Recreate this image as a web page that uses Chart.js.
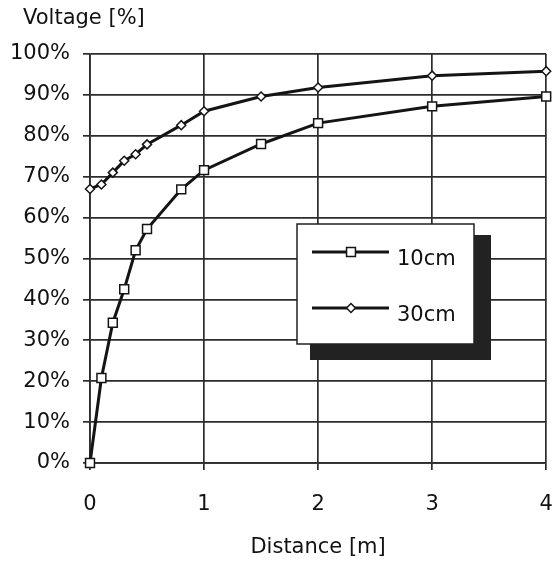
<!DOCTYPE html>
<html>
<head>
<meta charset="utf-8">
<script src="https://cdn.jsdelivr.net/npm/chart.js@4/dist/chart.umd.min.js"></script>
<style>
  html, body { margin: 0; padding: 0; background: #fff; }
  #wrap { width: 554px; height: 562px; }
</style>
</head>
<body>
<div id="wrap"><canvas id="c" width="554" height="562"></canvas></div>
<script>
// Measured voltage vs. distance from the electrode
const distances = [0, 0.1, 0.2, 0.3, 0.4, 0.5, 0.8, 1, 1.5, 2, 3, 4];
const voltage10cm = [0, 20.8, 34.3, 42.5, 52, 57.2, 66.9, 71.6, 78, 83.1, 87.2, 89.6];
const voltage30cm = [67, 68.1, 71, 73.9, 75.5, 77.9, 82.6, 86, 89.6, 91.8, 94.7, 95.8];
const seriesNames = ['10cm', '30cm'];
const yTickValues = [0, 10, 20, 30, 40, 50, 60, 70, 80, 90, 100];
const xTickValues = [0, 1, 2, 3, 4];
const yTitle = 'Voltage [%]';
const xTitle = 'Distance [m]';

const FONT = '"DejaVu Sans", Verdana, sans-serif';
const TEXT = '#111';
const INK = '#141414';
const GRID = '#2c2c2c';

function toPoints(xs, ys) {
  return xs.map((x, i) => ({ x: x, y: ys[i] }));
}

// boxed legend with a drop shadow, plus the y-axis caption at the top
const boxLegend = {
  id: 'boxLegend',
  afterDraw(chart) {
    const ctx = chart.ctx;
    ctx.save();
    ctx.font = '21px ' + FONT;
    ctx.fillStyle = TEXT;
    ctx.textBaseline = 'alphabetic';
    ctx.textAlign = 'left';
    ctx.fillText(yTitle, 23, 24);

    // shadow
    ctx.fillStyle = '#222';
    ctx.fillRect(310, 235, 181, 125);
    // box
    ctx.fillStyle = '#fff';
    ctx.fillRect(297, 224, 177, 120);
    ctx.strokeStyle = '#222';
    ctx.lineWidth = 1.5;
    ctx.strokeRect(297, 224, 177, 120);

    const rows = [252, 308];
    chart.data.datasets.forEach((ds, i) => {
      const y = rows[i];
      ctx.strokeStyle = ds.borderColor;
      ctx.lineWidth = ds.borderWidth;
      ctx.beginPath();
      ctx.moveTo(312, y);
      ctx.lineTo(389, y);
      ctx.stroke();
      const cx = 351;
      ctx.fillStyle = ds.pointBackgroundColor;
      ctx.strokeStyle = ds.pointBorderColor;
      ctx.lineWidth = ds.pointBorderWidth;
      ctx.beginPath();
      if (ds.pointStyle === 'rect') {
        const h = Math.SQRT1_2 * ds.pointRadius;
        ctx.rect(cx - h, y - h, 2 * h, 2 * h);
      } else {
        const r = ds.pointRadius;
        ctx.moveTo(cx, y - r);
        ctx.lineTo(cx + r, y);
        ctx.lineTo(cx, y + r);
        ctx.lineTo(cx - r, y);
        ctx.closePath();
      }
      ctx.fill();
      ctx.stroke();
      ctx.fillStyle = TEXT;
      ctx.font = '21px ' + FONT;
      ctx.fillText(ds.label, 397, y + 13);
    });
    ctx.restore();
  }
};

new Chart(document.getElementById('c'), {
  type: 'line',
  data: {
    datasets: [
      {
        label: seriesNames[0],
        data: toPoints(distances, voltage10cm),
        borderColor: INK,
        borderWidth: 3,
        pointStyle: 'rect',
        pointRadius: 6.3,
        pointBackgroundColor: '#fff',
        pointBorderColor: INK,
        pointBorderWidth: 1.5,
        tension: 0,
        clip: false
      },
      {
        label: seriesNames[1],
        data: toPoints(distances, voltage30cm),
        borderColor: INK,
        borderWidth: 3,
        pointStyle: 'rectRot',
        pointRadius: 4.5,
        pointBackgroundColor: '#fff',
        pointBorderColor: INK,
        pointBorderWidth: 1.5,
        tension: 0,
        clip: false
      }
    ]
  },
  options: {
    responsive: false,
    animation: false,
    devicePixelRatio: 1,
    layout: { padding: { top: 54, right: 7, bottom: 0, left: 0 } },
    plugins: {
      legend: { display: false },
      tooltip: { enabled: false },
      title: { display: false }
    },
    scales: {
      x: {
        type: 'linear',
        min: 0,
        max: 4,
        afterBuildTicks(scale) { scale.ticks = xTickValues.map(v => ({ value: v })); },
        afterFit(scale) { scale.height = 99; scale.paddingLeft = 0; scale.paddingRight = 0; },
        grid: { color: GRID, lineWidth: 1.7, tickLength: 7, tickColor: GRID },
        border: { color: GRID, width: 1.7 },
        ticks: {
          color: TEXT,
          font: { family: FONT, size: 21 },
          padding: 22,
          maxRotation: 0,
          autoSkip: false
        },
        title: {
          display: true,
          text: xTitle,
          color: TEXT,
          font: { family: FONT, size: 21 },
          padding: { top: 0, bottom: 2 }
        }
      },
      y: {
        min: 0,
        max: 100,
        afterBuildTicks(scale) { scale.ticks = yTickValues.map(v => ({ value: v })); },
        afterFit(scale) { scale.width = 90; scale.paddingTop = 0; scale.paddingBottom = 0; },
        grid: { color: GRID, lineWidth: 1.7, tickLength: 7, tickColor: GRID },
        border: { color: GRID, width: 1.7 },
        ticks: {
          color: TEXT,
          font: { family: FONT, size: 21 },
          padding: 13,
          autoSkip: false,
          callback: v => v + '%'
        }
      }
    }
  },
  plugins: [boxLegend]
});
</script>
</body>
</html>
